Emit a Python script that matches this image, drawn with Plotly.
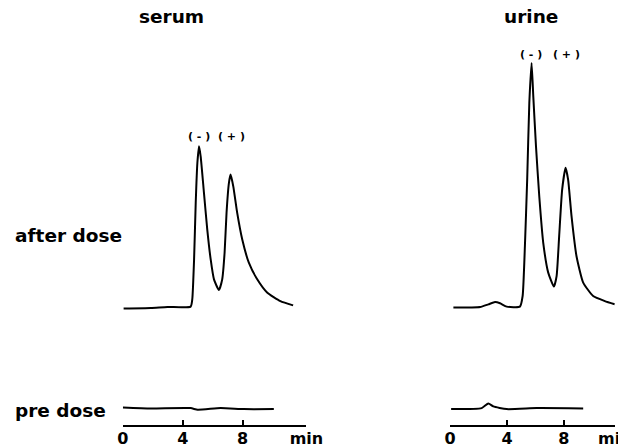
import plotly.graph_objects as go

# ---------------- data (retention time in min, detector response in arbitrary units) -------------
serum_after_t = [0.05, 1.87, 2.98, 4.53, 4.64, 4.76, 4.87, 4.98, 5.09, 5.2, 5.42, 5.64, 5.87, 6.09, 6.42,
                 6.64, 6.8, 6.93, 7.09, 7.2, 7.38, 7.64, 7.98, 8.42, 8.98, 9.64, 10.53, 11.38]
serum_after_v = [0.0, 0.2, 0.6, 0.75, 3.5, 18.3, 39.4, 54.2, 60.4, 56.7, 43.1, 29.5, 18.3, 10.9, 6.9,
                 10.9, 20.8, 35.7, 46.8, 49.9, 45.5, 35.7, 25.7, 17.1, 10.9, 6.0, 2.8, 1.2]

urine_after_t = [0.23, 2.11, 2.69, 3.16, 3.51, 3.98, 4.91, 5.1, 5.26, 5.42, 5.57, 5.73, 5.85, 6.04, 6.27,
                 6.55, 6.9, 7.3, 7.49, 7.67, 7.88, 8.12, 8.3, 8.54, 8.89, 9.36, 10.06, 10.88, 11.58]
urine_after_v = [0.4, 0.6, 1.6, 2.45, 2.0, 0.75, 0.75, 4.7, 23.2, 48.0, 76.5, 91.4, 79.0, 60.4, 41.8,
                 24.5, 13.4, 8.2, 12.1, 27.0, 44.3, 52.4, 48.0, 34.4, 19.5, 9.7, 4.7, 2.8, 1.6]

serum_pre_t = [0.0, 1.87, 4.53, 5.0, 6.53, 8.09, 10.09]
serum_pre_v = [0.26, -0.1, 0.0, -0.6, 0.0, -0.37, -0.37]

urine_pre_t = [0.07, 2.22, 2.69, 3.04, 3.98, 6.08, 9.36]
urine_pre_v = [-0.37, 0.0, 1.74, 0.63, -0.37, 0.0, -0.1]

tick_vals_serum = [0, 4, 8, 12.27]
tick_vals_urine = [0, 4, 8, 11.58]
tick_text = ["0", "4", "8", "min"]

panel_titles = ["serum", "urine"]
row_labels = ["after dose", "pre dose"]
peak_labels = ["( - )", "( + )"]
serum_peak_times = [5.09, 7.25]
urine_peak_times = [5.7, 8.2]

# ---------------- figure -------------
# measured mapping from page pixels to the photographed picture
SX, CX = 0.966, 12.9
SY, CY = 1.0, 8.0
W, H = 636, 440
FONT = "DejaVu Sans"
line = dict(color="black", width=2, shape="spline", smoothing=0.5)

fig = go.Figure()
fig.add_trace(go.Scatter(x=serum_after_t, y=serum_after_v, mode="lines", line=line, xaxis="x", yaxis="y"))
fig.add_trace(go.Scatter(x=urine_after_t, y=urine_after_v, mode="lines", line=line, xaxis="x2", yaxis="y2"))
fig.add_trace(go.Scatter(x=serum_pre_t, y=serum_pre_v, mode="lines", line=line, xaxis="x", yaxis="y3"))
fig.add_trace(go.Scatter(x=urine_pre_t, y=urine_pre_v, mode="lines", line=line, xaxis="x2", yaxis="y4"))


def px_x(p):
    return ((p - CX) / SX) / W


def px_y(p):
    return 1 - ((p - CY) / SY) / H


xcommon = dict(anchor="free", position=px_y(427), showline=True, linecolor="black", linewidth=1.7,
               ticks="inside", ticklen=5, tickwidth=1.7, tickcolor="black", showgrid=False,
               zeroline=False, ticktext=tick_text, ticklabelstandoff=-2,
               tickfont=dict(family=FONT, size=16, color="black", weight="bold"))
after_dom = [px_y(312), px_y(40)]
pre_dom = [px_y(420), px_y(392)]
yhidden = dict(visible=False, showgrid=False, zeroline=False)

fig.update_layout(
    width=W, height=H, margin=dict(l=0, r=0, t=0, b=0),
    paper_bgcolor="white", plot_bgcolor="rgba(0,0,0,0)", showlegend=False,
    xaxis=dict(domain=[px_x(122), px_x(306)], range=[0, 12.27], tickvals=tick_vals_serum, **xcommon),
    xaxis2=dict(domain=[px_x(450), min(1.0, px_x(615))], range=[0, 11.58], tickvals=tick_vals_urine, **xcommon),
    yaxis=dict(domain=after_dom, range=[-1, 100], anchor="x", **yhidden),
    yaxis2=dict(domain=after_dom, range=[-1, 100], anchor="x2", **yhidden),
    yaxis3=dict(domain=pre_dom, range=[-4.08, 6.32], anchor="x", **yhidden),
    yaxis4=dict(domain=pre_dom, range=[-4.08, 6.32], anchor="x2", **yhidden),
)

big = dict(family=FONT, size=18.5, color="black", weight="bold")
small = dict(family=FONT, size=11, color="black", weight="bold")

# panel titles
for txt, cx in zip(panel_titles, [171, 531]):
    fig.add_annotation(text=txt, xref="paper", yref="paper", x=px_x(cx), y=px_y(17),
                       showarrow=False, font=big, xanchor="center", yanchor="middle")

# row labels
fig.add_annotation(text=row_labels[0], xref="paper", yref="paper", x=0, y=px_y(236),
                   showarrow=False, font=big, xanchor="left", yanchor="middle", borderpad=0)
fig.add_annotation(text=row_labels[1], xref="paper", yref="paper", x=0, y=px_y(411),
                   showarrow=False, font=big, xanchor="left", yanchor="middle", borderpad=0)

# peak labels (both labels of a panel sit at the same height)
for t, lab in zip(serum_peak_times, peak_labels):
    fig.add_annotation(text=lab, xref="x", yref="paper", x=t, y=px_y(137),
                       showarrow=False, font=small, yanchor="middle")
for t, lab in zip(urine_peak_times, peak_labels):
    fig.add_annotation(text=lab, xref="x2", yref="paper", x=t, y=px_y(55),
                       showarrow=False, font=small, yanchor="middle")

fig.write_html("out.html")
